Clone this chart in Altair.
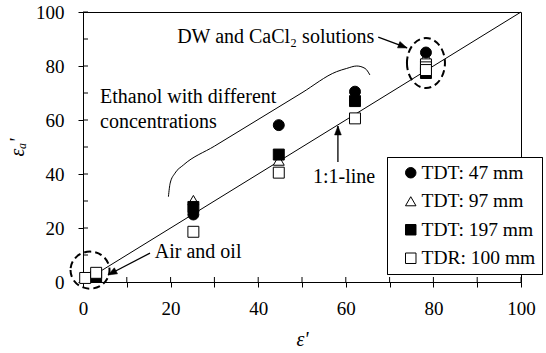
import altair as alt
import pandas as pd

# Apparent vs. reference permittivity for each probe
series_names = ["TDT: 47 mm", "TDT: 97 mm", "TDT: 197 mm", "TDR: 100 mm"]
series_shapes = ["circle", "triangle-up", "square", "square"]
series_fills = ["black", "white", "black", "white"]
solid_series = ["TDT: 47 mm", "TDT: 197 mm"]

tdt47_x = [25.2, 44.7, 62.1, 78.3]
tdt47_y = [25.0, 58.1, 70.5, 85.0]
tdt97_x = [25.2, 44.7, 62.1, 78.3]
tdt97_y = [30.3, 45.0, 69.0, 83.5]
tdt197_x = [3.0, 25.2, 44.7, 62.1, 78.3]
tdt197_y = [2.0, 27.8, 47.2, 67.0, 77.4]
tdr_x = [0.5, 3.0, 25.2, 44.7, 62.1, 78.3, 78.3, 78.3]
tdr_y = [1.5, 3.4, 18.6, 40.5, 60.6, 80.6, 79.5, 78.5]

# axis ticks (labels every 20)
tick_values = [0, 10, 20, 30, 40, 50, 60, 70, 80, 90, 100]

# 1:1 reference line
one_to_one = [0, 100]

# bracket around the ethanol group
bracket_x = [19.5, 19.9, 21.0, 22.9, 30.0, 50.0, 57.9, 60.2, 62.5, 64.4, 65.5]
bracket_y = [31.6, 36.6, 40.3, 43.3, 50.3, 70.1, 77.9, 79.1, 80.0, 79.1, 76.7]

# dashed rings around the air/oil and DW/CaCl2 groups
ring_x = [1.6, 78.3]
ring_y = [4.4, 81.1]
ring_paths = [
    "M -1 0 A 1 0.95 0 1 0 1 0 A 1 0.95 0 1 0 -1 0",
    "M -0.76 0 A 0.76 1 0 1 0 0.76 0 A 0.76 1 0 1 0 -0.76 0",
]
ring_sizes = [1521, 2500]

# annotation arrows: tail -> head
arrow_x = [67.4, 58.2, 15.3]
arrow_y = [90.7, 44.4, 10.7]
arrow_x2 = [74.0, 58.2, 5.7]
arrow_y2 = [86.7, 57.8, 2.6]
arrow_angle = [110.8, 0.0, 242.4]

# annotation text
note_text = ["DW and CaCl\u2082 solutions", "Ethanol with different",
             "concentrations", "1:1-line", "Air and oil"]
note_x = [21.5, 3.9, 3.9, 52.5, 16.4]
note_y = [88.5, 66.3, 57.0, 36.7, 8.9]

FONT = "Liberation Serif"

rows = []
for name, xs, ys in [
    (series_names[1], tdt97_x, tdt97_y),
    (series_names[0], tdt47_x, tdt47_y),
    (series_names[2], tdt197_x, tdt197_y),
    (series_names[3], tdr_x, tdr_y),
]:
    for a, b in zip(xs, ys):
        rows.append({"series": name, "x": a, "y": b})
points_df = pd.DataFrame(rows)

x_scale = alt.Scale(domain=[0, 100], nice=False, zero=False)
y_scale = alt.Scale(domain=[0, 100], nice=False, zero=False)

label_expr = "datum.value % 20 == 0 ? datum.label : ''"

x_axis = alt.Axis(values=tick_values, labelExpr=label_expr, title="\u03b5'",
                  tickSize=5, labelPadding=12, titlePadding=11, labelFlush=False)
y_axis = alt.Axis(values=tick_values, labelExpr=label_expr, title="\u03b5\u2090'",
                  tickSize=5, labelPadding=14, titlePadding=8)

line_11 = alt.Chart(pd.DataFrame({"v": one_to_one})).mark_line(
    color="black", strokeWidth=1
).encode(
    x=alt.X("v:Q", scale=x_scale, axis=x_axis),
    y=alt.Y("v:Q", scale=y_scale, axis=y_axis),
)

bracket = alt.Chart(pd.DataFrame({"x": bracket_x, "y": bracket_y})).mark_line(
    color="black", strokeWidth=1, interpolate="monotone"
).encode(x=alt.X("x:Q", scale=x_scale), y=alt.Y("y:Q", scale=y_scale))

rings = alt.Chart(pd.DataFrame({"x": ring_x, "y": ring_y, "p": ring_paths, "s": ring_sizes})).mark_point(
    filled=False, stroke="black", strokeWidth=2, strokeDash=[7, 4], opacity=1
).encode(
    x=alt.X("x:Q", scale=x_scale),
    y=alt.Y("y:Q", scale=y_scale),
    shape=alt.Shape("p:N", scale=None, legend=None),
    size=alt.Size("s:Q", scale=None, legend=None),
)

arrows_df = pd.DataFrame({"x": arrow_x, "y": arrow_y, "x2": arrow_x2, "y2": arrow_y2, "a": arrow_angle})
shafts = alt.Chart(arrows_df).mark_rule(color="black", strokeWidth=1.3).encode(
    x=alt.X("x:Q", scale=x_scale), y=alt.Y("y:Q", scale=y_scale),
    x2="x2:Q", y2="y2:Q",
)
heads = alt.Chart(arrows_df).mark_point(
    shape="M 0 0 L 0.75 2 L -0.75 2 Z", filled=True, fill="black", stroke="black",
    strokeWidth=0.5, size=81, opacity=1
).encode(
    x=alt.X("x2:Q", scale=x_scale), y=alt.Y("y2:Q", scale=y_scale),
    angle=alt.Angle("a:Q", scale=None),
)

notes = alt.Chart(pd.DataFrame({"t": note_text, "x": note_x, "y": note_y})).mark_text(
    align="left", baseline="alphabetic", font=FONT, fontSize=20, color="black"
).encode(x=alt.X("x:Q", scale=x_scale), y=alt.Y("y:Q", scale=y_scale), text="t:N")

# one merged legend for shape + fill; symbol fill follows the series
solid_list = ",".join("'%s'" % s for s in solid_series)
legend = alt.Legend(
    title=None, orient="none", legendX=304, legendY=145,
    strokeColor="black", fillColor="white", padding=6,
    labelFont=FONT, labelFontSize=19.5, labelColor="black", labelOffset=1,
    symbolSize=110, symbolStrokeColor="black", symbolStrokeWidth=1,
    symbolFillColor={"expr": "indexof([%s], datum.value) >= 0 ? 'black' : 'white'" % solid_list},
    symbolOpacity=1, symbolOffset=8, rowPadding=7.5,
)

points = alt.Chart(points_df).mark_point(
    filled=True, size=120, stroke="black", strokeWidth=1, opacity=1
).encode(
    x=alt.X("x:Q", scale=x_scale),
    y=alt.Y("y:Q", scale=y_scale),
    shape=alt.Shape("series:N", scale=alt.Scale(domain=series_names, range=series_shapes), legend=legend),
    fill=alt.Fill("series:N", scale=alt.Scale(domain=series_names, range=series_fills), legend=legend),
)

ticks_df = pd.DataFrame({"t": tick_values})
inner_x = alt.Chart(ticks_df).mark_rule(color="black", strokeWidth=1).encode(
    x=alt.X("t:Q", scale=x_scale), y=alt.value(270), y2=alt.value(265)
)
inner_y = alt.Chart(ticks_df).mark_rule(color="black", strokeWidth=1).encode(
    y=alt.Y("t:Q", scale=y_scale), x=alt.value(0), x2=alt.value(5)
)

chart = alt.layer(
    line_11, bracket, inner_x, inner_y, rings, shafts, heads, notes, points
).resolve_scale(shape="independent", size="independent").properties(
    width=438, height=270,
    padding={"left": 83, "top": 12, "right": 25, "bottom": 71},
    autosize=alt.AutoSizeParams(type="none"),
).configure_view(
    stroke="black", strokeWidth=1
).configure_axis(
    labelFont=FONT, labelFontSize=19, labelColor="black",
    titleFont=FONT, titleFontSize=20, titleFontStyle="italic", titleFontWeight="normal",
    titleColor="black", domainColor="black", tickColor="black", grid=False,
)

chart.save("out.html", embed_options={"renderer": "svg", "actions": False})
